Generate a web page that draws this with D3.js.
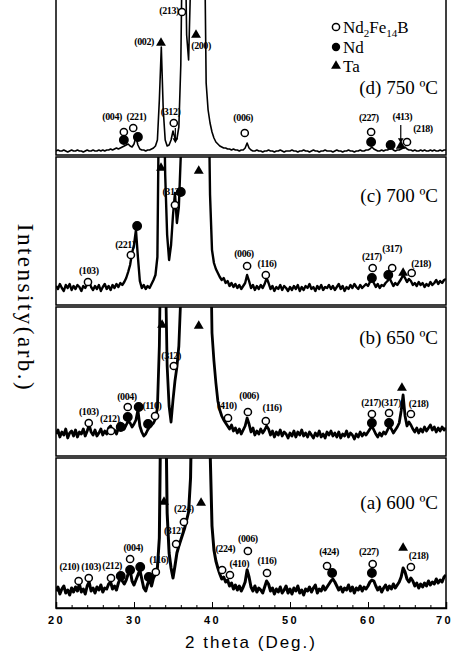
<!DOCTYPE html>
<html lang="en">
<head>
<meta charset="utf-8">
<title>XRD patterns</title>
<script src="https://cdn.jsdelivr.net/npm/d3@7"></script>
<style>
body{margin:0;background:#fff}
svg{display:block}
.hkl{font-family:"Liberation Serif",serif;font-size:10px;font-weight:bold;letter-spacing:-0.4px}
.temp{font-family:"Liberation Serif",serif;font-size:19px}
</style>
</head>
<body>
<div id="chart"></div>
<script>
// readings every 0.25 deg from 20 to 70 (201 points per pattern)
var twoTheta = d3.range(0, 201).map(function(i){ return 20 + i*0.25 })

// intensities (arb.), 250 = off the top of the panel
var intD = [4,5,4,4,5,4,3,4,5,4,4,5,4,4,3,4,5,4,4,5,
 4,4,5,4,5,4,5,5,6,5,6,7,6,7,8,9,10,11,9,8,
 11,18,10,6,5,5,4,5,5,6,7,9,15,55,108,45,15,9,10,15,
 24,17,16,28,90,250,250,120,95,170,250,250,250,250,250,250,250,72,45,32,
 23,17,13,11,9,8,7,7,6,6,5,6,5,5,4,5,5,7,12,7,
 5,4,4,5,4,4,3,4,4,5,4,4,3,4,4,5,4,3,4,4,
 4,5,4,4,3,4,4,5,4,4,3,4,5,4,4,3,4,4,5,4,
 4,4,3,4,5,4,4,3,4,4,5,4,4,3,4,4,5,4,4,5,
 5,6,8,6,5,4,4,5,4,5,5,6,7,5,4,5,5,6,7,8,
 6,5,5,4,5,4,4,5,4,5,4,4,5,4,5,4,4,5,4,5,
 5]

var intC = [19,16,21,17,14,20,17,21,15,19,16,20,18,14,19,17,21,24,18,15,
 19,16,20,14,18,21,16,19,15,20,17,21,18,22,20,23,27,33,40,52,
 60,75,48,24,17,20,16,19,17,21,25,30,48,250,250,250,130,70,45,60,
 90,112,82,98,150,250,250,250,250,250,250,250,250,250,250,250,250,250,250,110,
 55,42,36,32,28,25,27,22,24,19,22,18,21,17,20,16,19,22,30,24,
 17,20,15,19,16,20,17,21,27,22,16,19,14,18,16,20,15,19,17,14,
 18,15,19,16,20,14,18,15,19,17,21,16,18,14,19,16,20,15,18,17,
 20,16,19,15,18,21,16,19,14,18,16,20,17,21,18,16,20,17,19,21,
 19,23,27,22,18,21,17,20,19,22,24,27,23,19,22,20,23,26,30,27,
 23,26,24,20,22,19,23,20,22,18,21,19,23,20,22,25,21,24,22,25,
 26]

var intB = [22,26,19,24,21,27,18,23,25,20,26,19,24,22,27,20,25,31,24,21,
 26,20,23,27,21,25,22,28,30,24,26,22,28,33,30,27,31,35,33,29,
 32,36,46,30,24,20,22,26,29,31,33,37,48,110,250,250,200,90,50,34,
 56,75,89,110,160,250,250,250,250,250,250,250,250,250,250,250,250,250,250,250,
 123,95,73,55,46,40,36,33,30,27,31,25,28,23,27,22,26,30,38,32,
 24,28,21,25,22,27,23,26,30,27,21,25,19,24,21,26,20,24,22,18,
 23,20,25,19,24,21,26,20,23,19,24,21,18,23,20,25,19,22,18,24,
 21,25,20,23,19,24,18,22,20,25,19,23,21,17,22,19,24,20,23,21,
 24,27,30,26,22,19,23,20,24,22,26,30,27,23,26,29,33,45,61,40,
 30,34,31,27,24,28,23,27,24,29,25,28,31,26,29,24,28,25,29,26,
 28]

var intA = [17,21,14,19,22,15,18,13,20,16,21,17,24,16,19,14,22,26,17,20,
 15,21,18,23,16,20,19,24,26,19,22,18,25,30,27,24,28,34,38,27,
 23,28,33,38,29,20,17,24,29,22,30,34,40,70,250,250,250,95,55,40,
 30,42,55,62,68,74,80,88,96,130,250,250,250,250,250,250,250,250,250,160,
 82,58,47,40,34,29,31,26,28,22,25,19,23,18,22,17,21,26,38,31,
 21,17,22,16,20,18,15,21,27,24,17,20,14,19,16,21,15,18,22,15,
 19,14,20,17,22,15,18,13,19,17,21,16,20,23,15,19,17,22,18,21,
 24,27,29,26,22,18,21,16,20,18,23,17,21,15,20,18,22,17,21,19,
 22,26,28,27,22,18,21,16,20,23,18,22,19,24,20,23,26,31,40,36,
 29,26,30,27,22,25,20,24,21,25,22,27,23,26,24,29,25,28,26,31,
 33]

// phase markers: o = Nd2Fe14B, f = Nd, t = Ta  [type, 2theta, intensity]
var markD = [["o",28.7,23],["f",28.7,15],["o",29.9,27],["f",30.5,18],["t",33.46,112],["o",36.15,143],
 ["t",37.95,120],["o",35.1,32],["o",44.2,22],["o",60.4,23],["f",60.4,13],["f",62.9,10],["t",64.2,9],["o",65.0,13]]
var markC = [["o",24.1,23],["o",29.6,50],["f",30.4,79],["t",33.46,137],["o",35.25,100],["f",36.0,113],
 ["t",38.3,134],["o",44.5,39],["o",46.9,30],["o",60.6,37],["f",60.5,27],["o",63.1,37],["f",62.6,30],
 ["t",64.5,32],["o",65.6,32]]
var markB = [["o",24.2,33],["o",27.05,25],["f",28.3,29],["o",29.2,49],["f",29.2,39],["f",30.6,49],
 ["o",32.7,40],["f",31.8,32],["t",33.6,131],["o",35.1,90],["t",38.3,130],["o",42.05,38],["o",44.6,44],
 ["o",46.9,35],["o",60.5,42],["f",60.5,33],["o",62.7,43],["f",62.7,33],["t",64.35,68],["o",65.5,42]]
var markA = [["o",22.9,27],["o",24.2,30],["o",27.05,30],["f",28.3,32],["o",29.5,49],["f",29.5,38],
 ["f",30.8,41],["f",31.9,31],["o",32.8,36],["t",33.85,106],["o",36.4,86],["o",35.4,64],["t",38.6,105],
 ["o",41.3,38],["o",42.3,33],["o",44.6,57],["o",47.05,35],["o",54.75,42],["f",55.4,35],["o",60.6,44],
 ["f",60.5,35],["t",64.5,60],["o",65.5,41]]

// reflection labels [text, 2theta, intensity]
var hklD = [["(213)",34.5,143],["(002)",31.3,112],["(200)",38.6,108],["(312)",34.7,42],["(004)",27.2,37],
 ["(221)",30.3,37],["(006)",44.0,36],["(227)",60.1,36],["(413)",64.4,37],["(218)",67.05,25]]
var hklC = [["(103)",24.2,33],["(221)",28.85,59],["(312)",34.9,112],["(006)",44.1,50],["(116)",47.05,40],
 ["(217)",60.5,47],["(317)",63.1,55],["(218)",66.8,40]]
var hklB = [["(103)",24.2,43],["(212)",26.9,36],["(004)",29.1,58],["(110)",32.3,49],["(312)",34.75,99],
 ["(410)",41.9,49],["(006)",44.75,59],["(116)",47.7,47],["(217)",60.4,52],["(317)",62.95,52],["(218)",66.5,51]]
var hklA = [["(210)",21.7,40],["(103)",24.5,40],["(212)",27.2,41],["(004)",29.9,59],["(116)",33.2,47],
 ["(224)",36.4,98],["(312)",35.1,76],["(224)",41.7,58],["(410)",43.5,43],["(006)",44.6,68],["(116)",47.05,46],
 ["(424)",55.0,55],["(227)",60.1,55],["(218)",66.5,51]]

var arrowD = [[64.2,30,14],[35.3,27,14]]

var tempLabels = ["(d) 750 \u00baC","(c) 700 \u00baC","(b) 650 \u00baC","(a) 600 \u00baC"]
var tempYs = [90,198,340,505]
var xTicks = [20,30,40,50,60,70]

var W = 452, H = 655
var x0 = 56, x1 = 446
var svg = d3.select("#chart").append("svg").attr("width",W).attr("height",H)

var xScale = d3.scaleLinear().domain([20,70]).range([x0,x1])

var panels = [
 {top:-2, bottom:155, data:intD, marks:markD, hkl:hklD, arrows:arrowD, sw:1.6},
 {top:157, bottom:305, data:intC, marks:markC, hkl:hklC, arrows:[], sw:2.4},
 {top:307, bottom:456, data:intB, marks:markB, hkl:hklB, arrows:[], sw:2.8},
 {top:458, bottom:608, data:intA, marks:markA, hkl:hklA, arrows:[], sw:3}
]

panels.forEach(function(p,k){
 var yScale = d3.scaleLinear().domain([0,150]).range([p.bottom,p.bottom-150])
 var g = svg.append("g")
 svg.append("clipPath").attr("id","clip"+k).append("rect")
  .attr("x",x0).attr("y",p.top).attr("width",x1-x0).attr("height",p.bottom-p.top)

 var line = d3.line()
  .x(function(d,i){ return xScale(twoTheta[i]) })
  .y(function(d){ return yScale(d) })
 g.append("path").datum(p.data)
  .attr("d",line).attr("fill","none").attr("stroke","#000")
  .attr("stroke-width",p.sw).attr("stroke-linejoin","round")
  .attr("clip-path","url(#clip"+k+")")

 g.append("rect").attr("x",x0).attr("y",p.top).attr("width",x1-x0).attr("height",p.bottom-p.top)
  .attr("fill","none").attr("stroke","#000").attr("stroke-width",1.5)

 p.arrows.forEach(function(a){
  g.append("line").attr("x1",xScale(a[0])).attr("x2",xScale(a[0]))
   .attr("y1",yScale(a[1])).attr("y2",yScale(a[2])).attr("stroke","#000").attr("stroke-width",1.2)
  g.append("path").attr("d",d3.symbol(d3.symbolTriangle,14)())
   .attr("transform","translate("+xScale(a[0])+","+(yScale(a[2])-1)+") rotate(180)")
 })

 p.hkl.forEach(function(h){
  g.append("text").attr("class","hkl").attr("x",xScale(h[1])).attr("y",yScale(h[2]))
   .attr("text-anchor","middle").attr("dominant-baseline","middle").text(h[0])
 })

 p.marks.forEach(function(m){
  var cx = xScale(m[1]), cy = yScale(m[2])
  if(m[0]=="t"){
   g.append("path").attr("d",d3.symbol(d3.symbolTriangle,42)()).attr("transform","translate("+cx+","+cy+")")
  }else{
   g.append("circle").attr("cx",cx).attr("cy",cy).attr("r",m[0]=="o"?3.6:4.2)
    .attr("fill",m[0]=="o"?"#fff":"#000").attr("stroke","#000").attr("stroke-width",1.5)
  }
 })

 g.append("text").attr("class","temp").attr("x",438).attr("y",tempYs[k])
  .attr("text-anchor","end").attr("dominant-baseline","middle").text(tempLabels[k])
})

// legend
var leg = svg.append("g").attr("font-family","Liberation Serif, serif").attr("font-size",17)
leg.append("circle").attr("cx",336).attr("cy",27).attr("r",3.6).attr("fill","#fff").attr("stroke","#000").attr("stroke-width",1.5)
var t1 = leg.append("text").attr("x",343).attr("y",33)
t1.append("tspan").text("Nd")
t1.append("tspan").attr("font-size",11).attr("dy",4).text("2")
t1.append("tspan").attr("dy",-4).text("Fe")
t1.append("tspan").attr("font-size",11).attr("dy",4).text("14")
t1.append("tspan").attr("dy",-4).text("B")
leg.append("circle").attr("cx",336).attr("cy",47).attr("r",4.2).attr("fill","#000")
leg.append("text").attr("x",343).attr("y",53).text("Nd")
leg.append("path").attr("d",d3.symbol(d3.symbolTriangle,42)()).attr("transform","translate(336,66)")
leg.append("text").attr("x",343).attr("y",72).text("Ta")

// x axis
var xAxis = d3.axisBottom(xScale).tickValues(xTicks).tickSize(-6).tickPadding(8).tickFormat(d3.format("d"))
var ax = svg.append("g").attr("transform","translate(0,608)").call(xAxis)
ax.select(".domain").attr("stroke-width",1.5)
ax.selectAll("text").attr("font-family","Liberation Sans, Arial, sans-serif").attr("font-weight","bold")
 .attr("font-size",11).attr("letter-spacing","2.5px").attr("fill","#000")
ax.selectAll("text").filter(function(d){ return d==70 }).attr("dx",-2)
var minor = d3.axisBottom(xScale).ticks(25).tickSize(-3).tickFormat("")
var mx = svg.append("g").attr("transform","translate(0,608)").call(minor)
mx.select(".domain").remove()

svg.append("text").attr("x",251).attr("y",648).attr("text-anchor","middle")
 .attr("font-family","Liberation Sans, Arial, sans-serif").attr("font-size",17).attr("letter-spacing","2px")
 .text("2 theta (Deg.)")

svg.append("text").attr("transform","translate(18,308) rotate(90)").attr("text-anchor","middle")
 .attr("font-family","Liberation Serif, serif").attr("font-size",23).attr("letter-spacing","2.5px")
 .text("Intensity(arb.)")
</script>
</body>
</html>
